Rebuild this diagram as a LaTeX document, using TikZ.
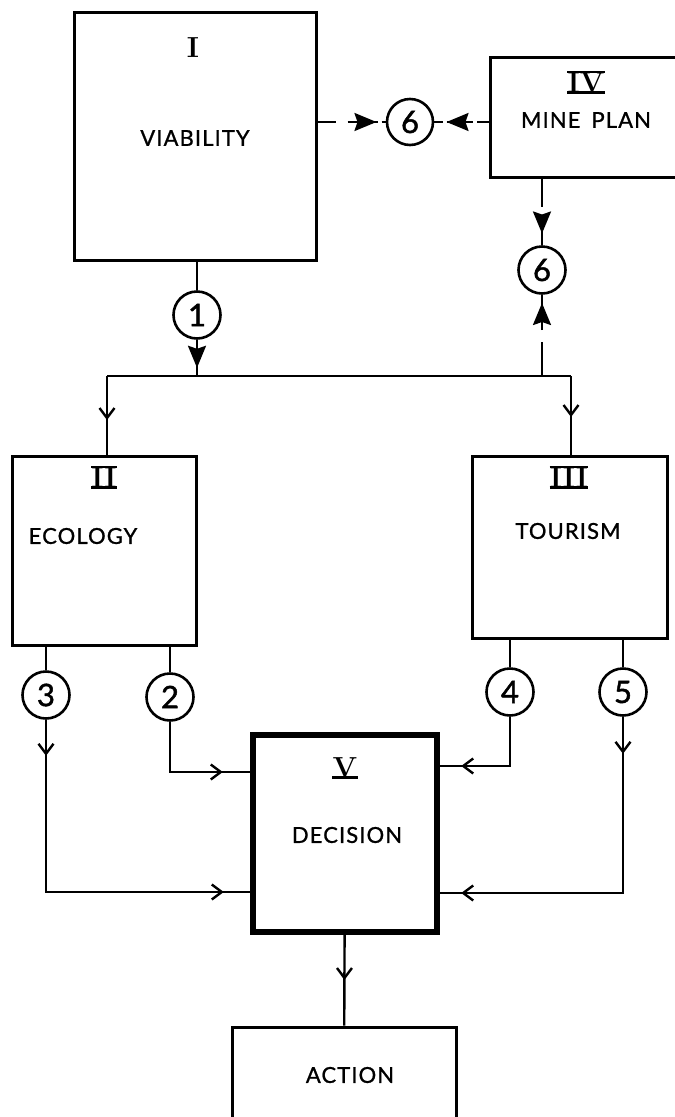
\documentclass[tikz,border=0pt]{standalone}
\usepackage{fontspec}
\newfontfamily\labelfont[LetterSpace=5,FakeBold=1]{Lato}
\newfontfamily\digitfont[FakeBold=1.5]{Lato}
\usetikzlibrary{arrows.meta,decorations.markings}

\tikzset{
  headtip/.tip={Stealth[length=22pt,width=18pt,inset=3pt]},
  barbtip/.tip={Straight Barb[length=10pt,width=15pt,line width=2.4pt]},
  box/.style={draw, line width=3pt, inner sep=0pt},
  heavybox/.style={draw, line width=6pt, inner sep=0pt},
  bubble/.style={draw, circle, line width=2.6pt, minimum size=47pt, inner sep=0pt,
    font=\digitfont\fontsize{31}{33}\selectfont},
  caption/.style={inner sep=0pt, font=\labelfont\fontsize{22}{24}\selectfont},
  numeral/.style={inner sep=0pt, text height=20pt, text depth=0pt,
    font=\rmfamily\bfseries\fontsize{29}{31}\selectfont},
  numbar/.style={line width=2.6pt},
  link/.style={line width=2.4pt},
  midbarb/.style={postaction={decorate, decoration={markings,
    mark=at position #1 with {\arrow{barbtip}}}}},
  midhead/.style={postaction={decorate, decoration={markings,
    mark=at position #1 with {\arrow{headtip}}}}},
}

\begin{document}
\begin{tikzpicture}[x=1pt,y=-1pt]
\useasboundingbox (0,0) rectangle (675,1117);
\clip (0,0) rectangle (675,1117);

% ---- boxes ----
\node[box, minimum width=242pt, minimum height=248pt] (I)   at (195,136) {};
\node[box, minimum width=240pt, minimum height=120pt] (IV)  at (610,117) {};
\node[box, minimum width=184pt, minimum height=189pt] (II)  at (104,550.5) {};
\node[box, minimum width=195pt, minimum height=182pt] (III) at (569.5,547) {};
\node[heavybox, minimum width=184pt, minimum height=197pt] (dec) at (345,833.5) {};
\node[box, minimum width=224pt, minimum height=113pt] (act) at (344,1083.5) {};

% ---- box texts ----
\node[numeral] (nI) at (193,47) {I};
\node[caption] (tI) at (195,138) {VIABILITY};

\node[numeral] (nIV) at (586,82) {IV};
\draw[numbar] (nIV.north west) -- (nIV.north east);
\draw[numbar] (nIV.south west) -- (nIV.south east);
\node[caption] (tIV) at (586,120) {MINE\hspace{0.5em}PLAN};

\node[numeral] (nII) at (104,477) {II};
\draw[numbar] (nII.north west) -- (nII.north east);
\draw[numbar] (nII.south west) -- (nII.south east);
\node[caption] (tII) at (83,536) {ECOLOGY};

\node[numeral] (nIII) at (569,477) {III};
\draw[numbar] (nIII.north west) -- (nIII.north east);
\draw[numbar] (nIII.south west) -- (nIII.south east);
\node[caption] (tIII) at (568,531) {TOURISM};

\node[numeral] (nV) at (345,767) {V};
\draw[numbar] (nV.south west) -- (nV.south east);
\node[caption] (tV) at (347,835) {DECISION};

\node[caption] (tA) at (350,1075) {ACTION};

% ---- numbered links ----
\node[bubble] (c1)  at (197,315) {1};
\node[bubble, minimum size=46pt] (c6a) at (410,122) {6};
\node[bubble] (c6b) at (542,270) {6};
\node[bubble] (c3)  at (46,695) {3};
\node[bubble] (c2)  at (170,697) {2};
\node[bubble] (c4)  at (510,692) {4};
\node[bubble] (c5)  at (623,692) {5};

% ---- junctions and entry points ----
\coordinate (jl) at (107,376);
\coordinate (jr) at (571,376);
\coordinate (in2) at (253,772);
\coordinate (in3) at (253,892);
\coordinate (in4) at (437,766);
\coordinate (in5) at (437,893);

% viability feeds the ecology and tourism studies
\draw[link] (c1 |- I.south) -- (c1);
\draw[link, midhead=28pt] (c1) -- (c1 |- jl);
\draw[link] (jl) -- (jr);
\draw[link, midbarb=44pt] (jl) -- (jl |- II.north);
\draw[link, midbarb=41pt] (jr) -- (jr |- III.north);

% mine plan exchanges (dashed)
\draw[link, dash pattern=on 18pt off 12pt on 30pt off 4pt on 20pt, midhead=59pt]
  (I.east |- c6a) -- (c6a);
\draw[link, dash pattern=on 12pt off 4pt on 26pt off 4pt on 20pt, midhead=42pt]
  (IV.west |- c6a) -- (c6a);
\draw[link, dash pattern=on 28pt off 8pt on 40pt, midhead=55pt]
  (c6b |- IV.south) -- (c6b);
\draw[link, dash pattern=on 34pt off 12pt on 40pt, midhead=73pt]
  (c6b |- jr) -- (c6b);

% ecology and tourism outputs to decision
\draw[link] (c3 |- II.south) -- (c3);
\draw[link] (c2 |- II.south) -- (c2);
\draw[link] (c4 |- III.south) -- (c4);
\draw[link] (c5 |- III.south) -- (c5);

\draw[link, midbarb=36pt, midbarb=350pt] (c3) |- (in3);
\draw[link, midbarb=103pt] (c2) |- (in2);
\draw[link, midbarb=98pt] (c4) |- (in4);
\draw[link, midbarb=37pt, midbarb=338pt] (c5) |- (in5);

% decision leads to action
\draw[link, midbarb=45pt] (dec) -- (act);
\end{tikzpicture}
\end{document}
